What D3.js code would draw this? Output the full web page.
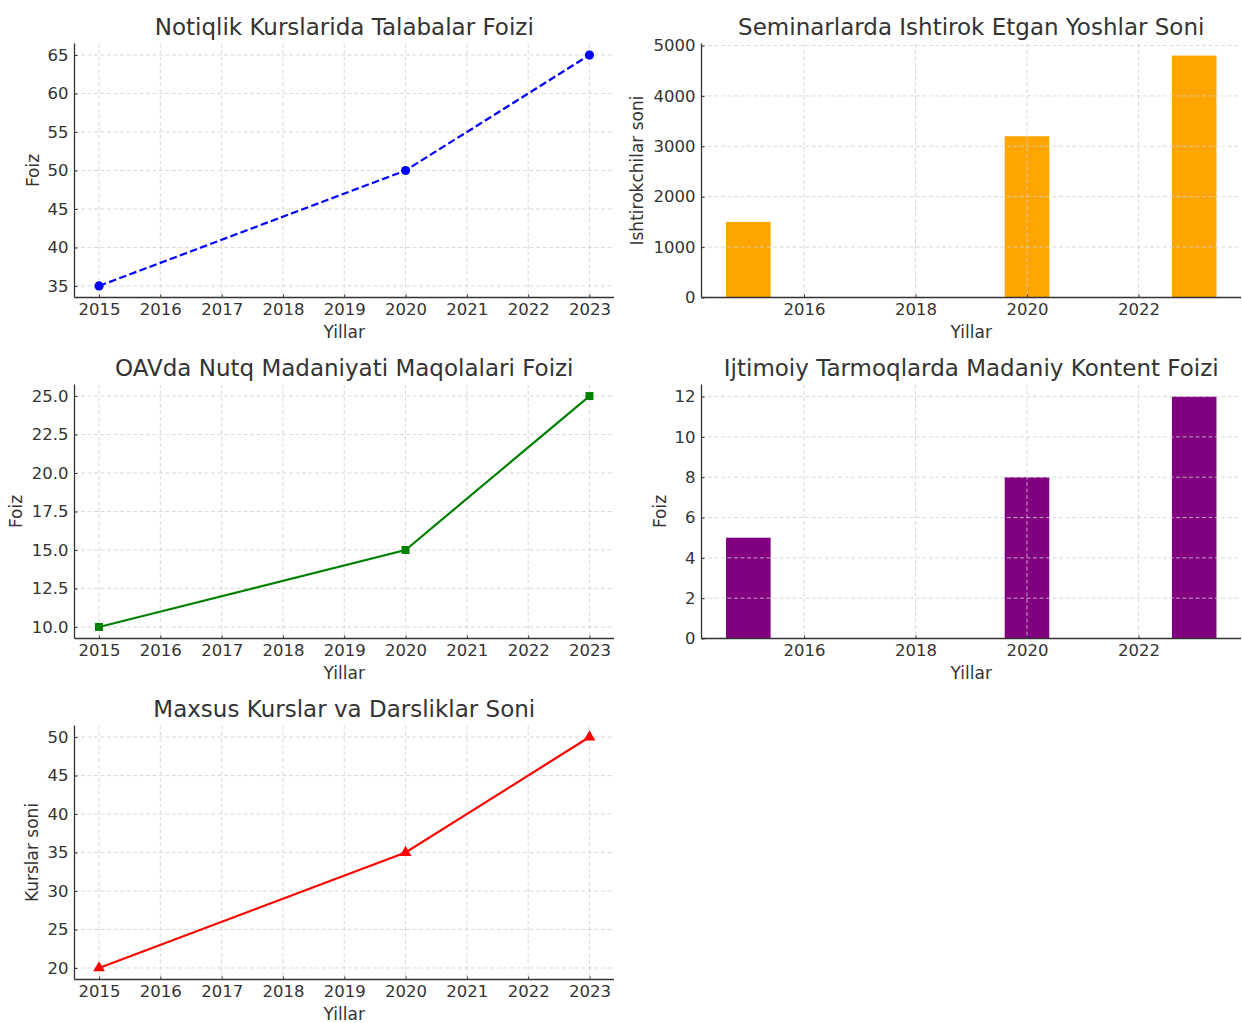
<!DOCTYPE html>
<html>
<head>
<meta charset="utf-8">
<script src="https://cdn.jsdelivr.net/npm/d3@7"></script>
<style>
  body { margin: 0; background: #fff; }
  text { font-family: "DejaVu Sans", sans-serif; fill: #333; }
  .grid line { stroke: #d0d0d0; stroke-dasharray: 4,2.5; stroke-width: 0.8; }
  .axis path, .axis line { stroke: #333; }
</style>
</head>
<body>
<script>
// data
var years = [2015, 2020, 2023];
var yearTicks = [2015, 2016, 2017, 2018, 2019, 2020, 2021, 2022, 2023];
var barTicks = [2016, 2018, 2020, 2022];

var studentShare = [35, 50, 65];
var seminarYouth = [1500, 3200, 4800];
var mediaArticles = [10, 15, 25];
var socialContent = [5, 8, 12];
var specialCourses = [20, 35, 50];

var titles = [
  "Notiqlik Kurslarida Talabalar Foizi",
  "Seminarlarda Ishtirok Etgan Yoshlar Soni",
  "OAVda Nutq Madaniyati Maqolalari Foizi",
  "Ijtimoiy Tarmoqlarda Madaniy Kontent Foizi",
  "Maxsus Kurslar va Darsliklar Soni"
];

var svgWidth = 1242;
var svgHeight = 1023;

var svg = d3.select("body").append("svg")
  .attr("width", svgWidth)
  .attr("height", svgHeight);

// panel boxes (plot area)
var colX = [74.5, 701.5];
var rowY = [43.5, 384.5, 725.5];
var plotW = 539.5;
var plotH = 254;

function makePanel(col, row) {
  return svg.append("g")
    .attr("transform", `translate(${colX[col]}, ${rowY[row]})`);
}

function dressPanel(g, x, y, xt, yt, yFmt, title, yLabel) {
  // grid
  g.append("g").attr("class", "grid")
    .selectAll("line").data(xt).join("line")
    .attr("x1", d => x(d)).attr("x2", d => x(d))
    .attr("y1", 0).attr("y2", plotH);
  g.append("g").attr("class", "grid")
    .selectAll("line").data(yt).join("line")
    .attr("x1", 0).attr("x2", plotW)
    .attr("y1", d => y(d)).attr("y2", d => y(d));

  var bottomAxis = d3.axisBottom(x).tickValues(xt).tickFormat(d3.format("d"))
    .tickSizeInner(-3).tickSizeOuter(0).tickPadding(6);
  var leftAxis = d3.axisLeft(y).tickValues(yt).tickFormat(yFmt)
    .tickSizeInner(-3).tickSizeOuter(0).tickPadding(6);

  var xa = g.append("g").attr("class", "axis")
    .attr("transform", `translate(0, ${plotH})`)
    .call(bottomAxis);
  xa.select(".domain").attr("d", `M0,0H${plotW}`).attr("stroke-width", 1.3);

  var ya = g.append("g").attr("class", "axis").call(leftAxis);
  ya.select(".domain").attr("d", `M0,0V${plotH}`).attr("stroke-width", 1.3);

  g.selectAll(".axis").attr("font-family", null).attr("font-size", null);
  g.selectAll(".axis text").style("font-size", "16.5px").style("fill", "#333");

  g.append("text")
    .attr("x", plotW / 2).attr("y", -9)
    .attr("text-anchor", "middle")
    .style("font-size", "23px")
    .text(title);

  g.append("text")
    .attr("x", plotW / 2).attr("y", plotH + 40.5)
    .attr("text-anchor", "middle")
    .style("font-size", "17px")
    .text("Yillar");

  g.append("text")
    .attr("transform", `translate(${g.yLabelX}, ${plotH / 2}) rotate(-90)`)
    .attr("text-anchor", "middle")
    .style("font-size", "17px")
    .text(yLabel);
}

function linePanel(col, row, values, yDomain, yt, yFmt, color, dashed, marker, title, yLabel, labelX) {
  var g = makePanel(col, row);
  g.yLabelX = labelX;
  var x = d3.scaleLinear().domain([2014.6, 2023.4]).range([0, plotW]);
  var y = d3.scaleLinear().domain(yDomain).range([plotH, 0]);
  dressPanel(g, x, y, yearTicks, yt, yFmt, title, yLabel);

  var pts = years.map((yr, i) => ({ year: yr, v: values[i] }));
  var line = d3.line().x(d => x(d.year)).y(d => y(d.v));
  g.append("path")
    .attr("d", line(pts))
    .attr("fill", "none")
    .attr("stroke", color)
    .attr("stroke-width", 2.2)
    .attr("stroke-dasharray", dashed ? "7.5,3.3" : null);

  var sym = d3.symbol().type(marker.type).size(marker.size);
  g.selectAll(".mk").data(pts).join("path")
    .attr("transform", d => `translate(${x(d.year)}, ${y(d.v)})`)
    .attr("d", sym)
    .attr("fill", color);
}

function barPanel(col, row, values, yDomain, yt, color, title, yLabel, labelX) {
  var g = makePanel(col, row);
  g.yLabelX = labelX;
  var x = d3.scaleLinear().domain([2014.16, 2023.84]).range([0, plotW]);
  var y = d3.scaleLinear().domain(yDomain).range([plotH, 0]);

  // bars first, grid drawn over them like the reference
  var pts = years.map((yr, i) => ({ year: yr, v: values[i] }));
  g.selectAll(".bar").data(pts).join("rect")
    .attr("x", d => x(d.year - 0.4))
    .attr("width", d => x(d.year + 0.4) - x(d.year - 0.4))
    .attr("y", d => y(d.v))
    .attr("height", d => plotH - y(d.v))
    .attr("fill", color);

  dressPanel(g, x, y, barTicks, yt, d3.format("d"), title, yLabel);
}

linePanel(0, 0, studentShare, [33.5, 66.5], [35, 40, 45, 50, 55, 60, 65], d3.format("d"),
  "#0000ff", true, { type: d3.symbolCircle, size: 66 }, titles[0], "Foiz", -36);

barPanel(1, 0, seminarYouth, [0, 5040], [0, 1000, 2000, 3000, 4000, 5000],
  "#ffa500", titles[1], "Ishtirokchilar soni", -59);

linePanel(0, 1, mediaArticles, [9.25, 25.75], [10, 12.5, 15, 17.5, 20, 22.5, 25], d3.format(".1f"),
  "#008000", false, { type: d3.symbolSquare, size: 64 }, titles[2], "Foiz", -53);

barPanel(1, 1, socialContent, [0, 12.6], [0, 2, 4, 6, 8, 10, 12],
  "#800080", titles[3], "Foiz", -36);

linePanel(0, 2, specialCourses, [18.5, 51.5], [20, 25, 30, 35, 40, 45, 50], d3.format("d"),
  "#ff0000", false, { type: d3.symbolTriangle, size: 60 }, titles[4], "Kurslar soni", -37);
</script>
</body>
</html>
